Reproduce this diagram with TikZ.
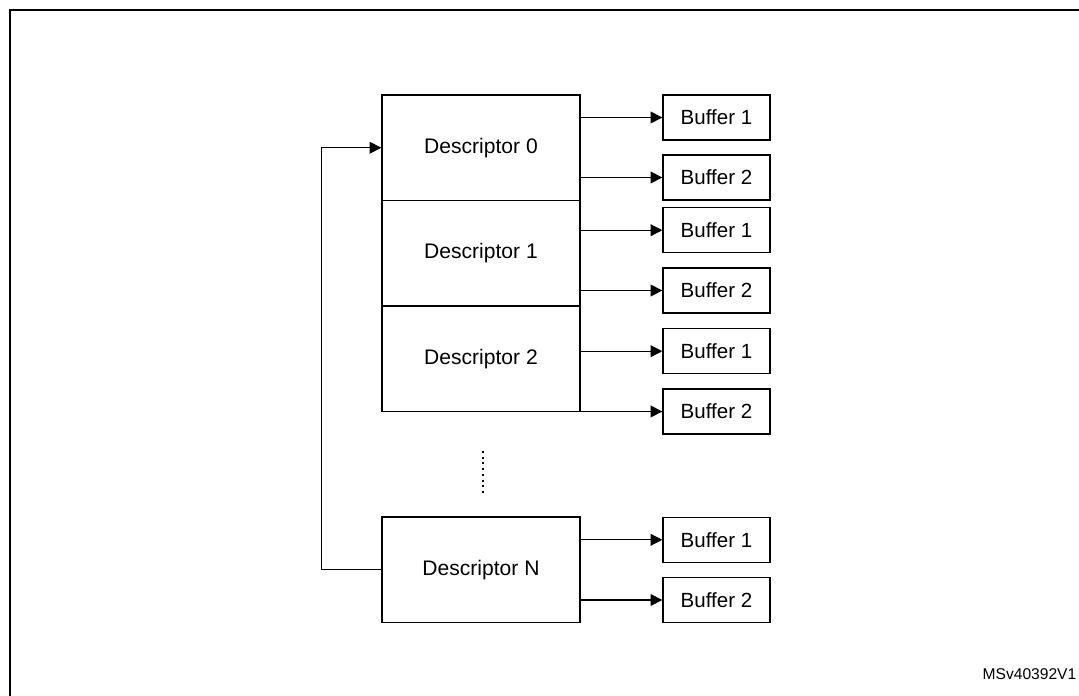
\documentclass[tikz,border=0pt]{standalone}
\usepackage{fontspec}
\setmainfont{Liberation Sans}
\usetikzlibrary{arrows.meta}
\begin{document}
\begin{tikzpicture}[x=0.75pt,y=-0.75pt,
  line width=1pt,
  desc/.style={draw,minimum width=148.5pt,minimum height=79.1pt,inner sep=0pt,font=\fontsize{15.8}{18}\selectfont},
  buf/.style={draw,minimum width=80.25pt,minimum height=33.75pt,inner sep=0pt,font=\fontsize{15.4}{18}\selectfont},
  link/.style={-{Triangle[length=8.8pt,width=8.8pt]}}
]
\useasboundingbox (0,0) rectangle (1079,696);
\fill[white] (0,0) rectangle (1079,696);
% frame
\draw[line width=1.6pt] (10,710) -- (10,10) -- (1095,10);
% descriptors
\node[desc] (D0) at (481,147.75) {Descriptor 0};
\node[desc] (D1) at (481,253.25) {Descriptor 1};
\node[desc] (D2) at (481,358.75) {Descriptor 2};
\node[desc] (DN) at (481,569.75) {Descriptor N};
% buffers
\node[buf] (B01) at (716.5,117.5) {Buffer 1};
\node[buf] (B02) at (716.5,177.5) {Buffer 2};
\node[buf] (B11) at (716.5,230.2) {Buffer 1};
\node[buf] (B12) at (716.5,290.5) {Buffer 2};
\node[buf] (B21) at (716.5,351.2) {Buffer 1};
\node[buf] (B22) at (716.5,411.5) {Buffer 2};
\node[buf] (BN1) at (716.5,539.8) {Buffer 1};
\node[buf] (BN2) at (716.5,600) {Buffer 2};
% connectors
\draw[link] (D0.east |- B01.west) -- (B01.west);
\draw[link] (D0.east |- B02.west) -- (B02.west);
\draw[link] (D1.east |- B11.west) -- (B11.west);
\draw[link] (D1.east |- B12.west) -- (B12.west);
\draw[link] (D2.east |- B21.west) -- (B21.west);
\draw[link] (D2.east |- B22.west) -- (B22.west);
\draw[link] (DN.east |- BN1.west) -- (BN1.west);
\draw[link] (DN.east |- BN2.west) -- (BN2.west);
% loop back
\coordinate (lp) at (321.7,569.75);
\draw[link] (DN.west) -- (lp) |- (D0.west);
% dots
\coordinate (dt) at (482.7,451);
\coordinate (db) at (482.7,494);
\draw[line width=1.5pt,dash pattern=on 1.5pt off 2.8pt] (dt) -- (db);
% id label
\node[anchor=east,inner sep=0pt,font=\fontsize{11.7}{14}\selectfont] (id) at (1077,674) {MSv40392V1};
\end{tikzpicture}
\end{document}
